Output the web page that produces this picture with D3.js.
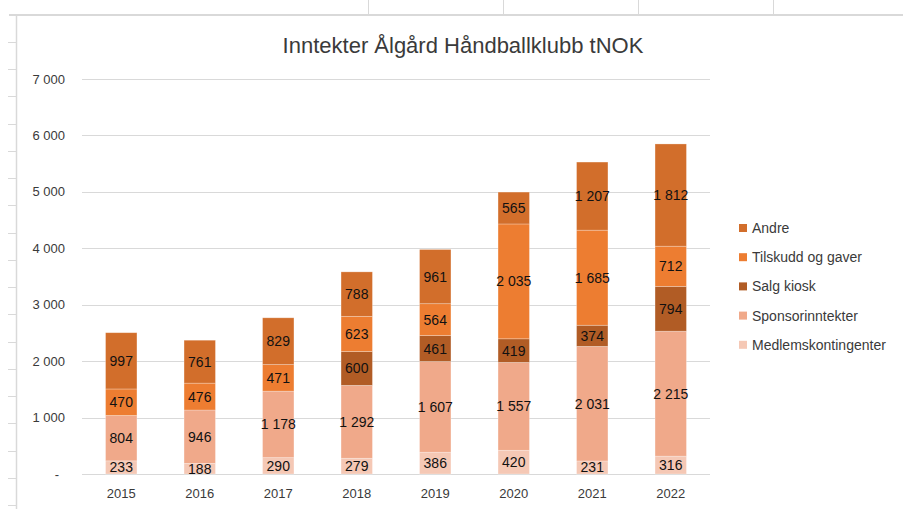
<!DOCTYPE html>
<html lang="no">
<head>
  <meta charset="UTF-8">
  <title>Inntekter Ålgård Håndballklubb tNOK</title>
  <script src="https://d3js.org/d3.v7.min.js"></script>
  <style>
    body { margin: 0; background: #fff; }
    svg { display: block; font-family: 'Liberation Sans', Arial, sans-serif; }
    .tick-label { font-size: 13px; fill: #3a3a3a; }
    .bar-label { font-size: 14px; fill: #111; text-anchor: middle; }
    .legend-text { font-size: 14px; fill: #3a3a3a; }
  </style>
</head>
<body>
  <svg id="chart" width="903" height="509"></svg>
  <script>
    // Data
    const years = ["2015", "2016", "2017", "2018", "2019", "2020", "2021", "2022"];
    const medlemskontingenter = [233, 188, 290, 279, 386, 420, 231, 316];
    const sponsorinntekter = [804, 946, 1178, 1292, 1607, 1557, 2031, 2215];
    const salgKiosk = [0, 0, 0, 600, 461, 419, 374, 794];
    const tilskuddOgGaver = [470, 476, 471, 623, 564, 2035, 1685, 712];
    const andre = [997, 761, 829, 788, 961, 565, 1207, 1812];
    const yTicks = [0, 1000, 2000, 3000, 4000, 5000, 6000, 7000];

    // stacking order, bottom first
    const seriesNames = ["Medlemskontingenter", "Sponsorinntekter", "Salg kiosk", "Tilskudd og gaver", "Andre"];
    const seriesValues = [medlemskontingenter, sponsorinntekter, salgKiosk, tilskuddOgGaver, andre];
    const colors = ["#F5C8B5", "#F0A98A", "#B15C25", "#ED7D31", "#D26E2B"];

    const table = years.map((y, i) => {
      const row = { year: y };
      seriesNames.forEach((n, j) => row[n] = seriesValues[j][i]);
      return row;
    });

    const svg = d3.select("#chart");

    // spreadsheet background
    const sheet = svg.append("g").attr("stroke", "#d9d9d9");
    sheet.append("line").attr("x1", 9).attr("x2", 903).attr("y1", 15).attr("y2", 15).attr("stroke-width", 2);
    sheet.append("line").attr("x1", 16.5).attr("x2", 16.5).attr("y1", 15).attr("y2", 509).attr("stroke-width", 1.5);
    [368, 503, 638, 773].forEach(x => {
      sheet.append("line").attr("x1", x + 0.5).attr("x2", x + 0.5).attr("y1", 0).attr("y2", 14);
    });
    d3.range(18).forEach(k => {
      const y = Math.round(42 + k * 27.24) + 0.5;
      sheet.append("line").attr("x1", 8).attr("x2", 16).attr("y1", y).attr("y2", y);
    });

    // scales
    const x = d3.scaleBand().domain(years).range([82, 710]).paddingInner(0.6).paddingOuter(0.3);
    const y = d3.scaleLinear().domain([0, 7000]).range([474, 79]);
    const color = d3.scaleOrdinal().domain(seriesNames).range(colors);

    // title
    svg.append("text")
      .attr("x", 463).attr("y", 53)
      .attr("text-anchor", "middle")
      .attr("font-size", "22px").attr("fill", "#3a3a3a")
      .text("Inntekter Ålgård Håndballklubb tNOK");

    // gridlines
    svg.append("g")
      .selectAll("line")
      .data(yTicks)
      .join("line")
      .attr("x1", 82).attr("x2", 710)
      .attr("y1", d => Math.round(y(d)) + 0.5).attr("y2", d => Math.round(y(d)) + 0.5)
      .attr("stroke", "#d9d9d9").attr("stroke-width", 1);

    // y axis labels
    const fmt = d => d === 0 ? "-" : d3.format(",")(d).replace(/,/g, " ");
    svg.append("g")
      .selectAll("text")
      .data(yTicks)
      .join("text")
      .attr("class", "tick-label")
      .attr("x", d => d === 0 ? 59 : 65)
      .attr("y", d => y(d) + 4.5)
      .attr("text-anchor", "end")
      .text(fmt);

    // x axis labels
    svg.append("g")
      .selectAll("text")
      .data(years)
      .join("text")
      .attr("class", "tick-label")
      .attr("x", d => x(d) + x.bandwidth() / 2)
      .attr("y", 498)
      .attr("text-anchor", "middle")
      .text(d => d);

    // stacked bars
    const stacked = d3.stack().keys(seriesNames)(table);

    const layers = svg.append("g")
      .selectAll("g")
      .data(stacked)
      .join("g")
      .attr("fill", d => color(d.key));

    layers.selectAll("rect")
      .data(d => d)
      .join("rect")
      .attr("x", d => x(d.data.year))
      .attr("y", d => y(d[1]))
      .attr("width", x.bandwidth())
      .attr("height", d => y(d[0]) - y(d[1]))
      .attr("stroke", "#ffffff").attr("stroke-opacity", 0.35).attr("stroke-width", 0.75);

    // value labels
    layers.selectAll("text")
      .data(d => d.filter(s => s[1] - s[0] > 0))
      .join("text")
      .attr("class", "bar-label")
      .attr("x", d => x(d.data.year) + x.bandwidth() / 2)
      .attr("y", d => (y(d[0]) + y(d[1])) / 2 + 5)
      .text(d => fmt(d[1] - d[0]));

    // legend
    const legend = svg.append("g")
      .selectAll("g")
      .data(seriesNames.slice().reverse())
      .join("g")
      .attr("transform", (d, i) => `translate(739, ${228 + i * 29.2})`);

    legend.append("rect")
      .attr("x", 0).attr("y", -4)
      .attr("width", 8).attr("height", 8)
      .attr("fill", d => color(d));

    legend.append("text")
      .attr("class", "legend-text")
      .attr("x", 13).attr("y", 5)
      .text(d => d);
  </script>
</body>
</html>
